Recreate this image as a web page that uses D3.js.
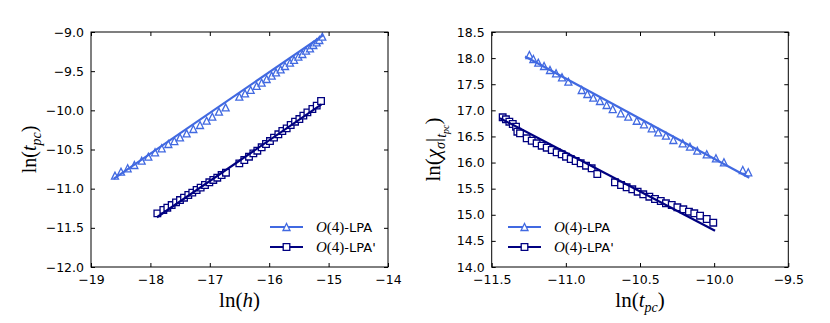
<!DOCTYPE html>
<html>
<head>
<meta charset="utf-8">
<script src="https://cdn.jsdelivr.net/npm/d3@7"></script>
<style>
    body { margin: 0; background: #fff; }
    .tick text { font-family: "DejaVu Sans", sans-serif; font-size: 12.5px; fill: #000; }
</style>
</head>
<body>
<div id="chart"></div>
<script>

// ---- left panel: ln(t_pc) vs ln(h) ----
let leftTriX = [-18.596, -18.495, -18.383, -18.270, -18.147, -18.035, -17.922, -17.810, -17.698, -17.597,
                -17.502, -17.390, -17.277, -17.165, -17.053, -16.958, -16.846, -16.733,
                -16.503, -16.407, -16.312, -16.211, -16.127, -16.043, -15.958, -15.885, -15.807, -15.734,
                -15.650, -15.582, -15.509, -15.442, -15.380, -15.313, -15.257, -15.201, -15.156, -15.106];
let leftTriY = [-10.834, -10.783, -10.740, -10.698, -10.643, -10.592, -10.536, -10.485, -10.430, -10.392,
                -10.345, -10.294, -10.238, -10.187, -10.132, -10.081, -10.017, -9.962,
                -9.826, -9.783, -9.740, -9.689, -9.647, -9.600, -9.557, -9.515, -9.477, -9.434,
                -9.392, -9.357, -9.315, -9.281, -9.238, -9.209, -9.166, -9.132, -9.102, -9.060];
let leftSqX = [-17.883, -17.782, -17.715, -17.642, -17.569, -17.502, -17.434, -17.362, -17.295, -17.222,
               -17.154, -17.081, -17.008, -16.941, -16.874, -16.801, -16.728,
               -16.503, -16.419, -16.340, -16.267, -16.200, -16.127, -16.054, -15.987, -15.919, -15.846,
               -15.779, -15.706, -15.638, -15.565, -15.492, -15.425, -15.357, -15.273, -15.200, -15.127];
let leftSqY = [-11.315, -11.272, -11.243, -11.209, -11.175, -11.145, -11.115, -11.081, -11.051, -11.017,
               -10.987, -10.953, -10.919, -10.889, -10.860, -10.826, -10.796,
               -10.677, -10.634, -10.592, -10.549, -10.515, -10.472, -10.430, -10.392, -10.349, -10.306,
               -10.264, -10.230, -10.187, -10.145, -10.111, -10.068, -10.026, -9.983, -9.940, -9.881];
// fitted straight lines (end points)
let leftTriFitX = [-18.62, -15.09];
let leftTriFitY = [-10.875, -9.04];
let leftSqFitX = [-17.89, -15.12];
let leftSqFitY = [-11.365, -9.925];

let leftXTicks = [-19, -18, -17, -16, -15, -14];
let leftYTicks = [-12.0, -11.5, -11.0, -10.5, -10.0, -9.5, -9.0];

// ---- right panel: ln(chi_sigma|t_pc) vs ln(t_pc) ----
let rightTriX = [-11.246, -11.219, -11.186, -11.147, -11.107, -11.066, -11.026, -10.983,
                 -10.893, -10.855, -10.815, -10.770, -10.725, -10.684, -10.630, -10.579, -10.522, -10.473,
                 -10.421, -10.377, -10.325, -10.275, -10.212, -10.163, -10.114, -10.050, -9.988, -9.934,
                 -9.807, -9.770];
let rightTriY = [18.060, 17.983, 17.912, 17.849, 17.772, 17.709, 17.633, 17.548,
                 17.389, 17.313, 17.242, 17.179, 17.102, 17.025, 16.943, 16.878, 16.801, 16.732,
                 16.656, 16.579, 16.514, 16.432, 16.369, 16.304, 16.227, 16.158, 16.081, 16.005,
                 15.857, 15.813];
let rightSqX = [-11.426, -11.404, -11.381, -11.358, -11.336, -11.327, -11.309, -11.264, -11.230, -11.197,
                -11.163, -11.129, -11.095, -11.062, -11.028, -10.999, -10.967, -10.934, -10.900, -10.864,
                -10.826, -10.788,
                -10.669, -10.628, -10.590, -10.552, -10.516, -10.478, -10.437, -10.399, -10.360, -10.325,
                -10.286, -10.248, -10.208, -10.170, -10.134, -10.095, -10.050, -10.006];
let rightSqY = [16.867, 16.828, 16.782, 16.738, 16.687, 16.591, 16.560, 16.464, 16.418, 16.369,
                16.323, 16.284, 16.240, 16.196, 16.158, 16.112, 16.068, 16.030, 15.986, 15.940,
                15.890, 15.781,
                15.622, 15.570, 15.526, 15.488, 15.442, 15.392, 15.346, 15.302, 15.264, 15.220,
                15.187, 15.143, 15.105, 15.059, 15.028, 14.982, 14.919, 14.848];
let rightTriFitX = [-11.275, -9.763];
let rightTriFitY = [18.03, 15.71];
let rightSqFitX = [-11.444, -9.994];
let rightSqFitY = [16.85, 14.695];

let rightXTicks = [-11.5, -11.0, -10.5, -10.0, -9.5];
let rightYTicks = [14.0, 14.5, 15.0, 15.5, 16.0, 16.5, 17.0, 17.5, 18.0, 18.5];

let legendNames = ["-LPA", "-LPA'"];
let colors = ["#4169e1", "#000080"];

const W = 830, H = 323;

let svg = d3.select("#chart")
    .append("svg")
    .attr("width", W)
    .attr("height", H)
    .style("font-family", "DejaVu Sans, sans-serif");

function zip(xs, ys) {
    return xs.map((x, i) => ({x: x, y: ys[i]}));
}

let triPath = "M0,-3.5 L-3.5,3.5 L3.5,3.5 Z";
let sqPath = "M-3.3,-3.3 L3.3,-3.3 L3.3,3.3 L-3.3,3.3 Z";

function fmt(d, dec) {
    return d3.format("." + dec + "f")(d).replace("-", "\u2212");
}

function drawPanel(p) {

    let x = d3.scaleLinear().domain(p.xDomain).range([p.left, p.right]);
    let y = d3.scaleLinear().domain(p.yDomain).range([p.bottom, p.top]);

    let g = svg.append("g");

    // axes with inward ticks on all four sides
    g.append("g")
        .attr("transform", "translate(0," + p.bottom + ")")
        .call(d3.axisBottom(x).tickValues(p.xTicks).tickSizeInner(-4).tickSizeOuter(0).tickPadding(8)
            .tickFormat(d => fmt(d, p.xDec)));
    g.append("g")
        .attr("transform", "translate(0," + p.top + ")")
        .call(d3.axisTop(x).tickValues(p.xTicks).tickSizeInner(-4).tickSizeOuter(0).tickFormat(""));
    g.append("g")
        .attr("transform", "translate(" + p.left + ",0)")
        .call(d3.axisLeft(y).tickValues(p.yTicks).tickSizeInner(-4).tickSizeOuter(0).tickPadding(7)
            .tickFormat(d => fmt(d, 1)));
    g.append("g")
        .attr("transform", "translate(" + p.right + ",0)")
        .call(d3.axisRight(y).tickValues(p.yTicks).tickSizeInner(-4).tickSizeOuter(0).tickFormat(""));

    g.selectAll(".domain").remove();
    g.selectAll(".tick line").attr("stroke", "#000").attr("stroke-width", 1);

    let line = d3.line().x(d => x(d.x)).y(d => y(d.y));

    p.series.forEach((s, k) => {
        g.append("g")
            .selectAll("path")
            .data(zip(s.xs, s.ys))
            .enter()
            .append("path")
            .attr("d", s.marker)
            .attr("transform", d => "translate(" + x(d.x) + "," + y(d.y) + ")")
            .attr("fill", "#fff")
            .attr("stroke", s.color)
            .attr("stroke-width", 1.3);
        g.append("path")
            .datum(zip(s.fitX, s.fitY))
            .attr("d", line)
            .attr("fill", "none")
            .attr("stroke", s.color)
            .attr("stroke-width", 2.2);
    });

    // frame
    g.append("rect")
        .attr("x", p.left).attr("y", p.top)
        .attr("width", p.right - p.left).attr("height", p.bottom - p.top)
        .attr("fill", "none").attr("stroke", "#000").attr("stroke-width", 1);

    // legend
    p.series.forEach((s, k) => {
        let ly = p.legY + k * 20;
        g.append("line")
            .attr("x1", p.legX).attr("x2", p.legX + 33)
            .attr("y1", ly).attr("y2", ly)
            .attr("stroke", s.color).attr("stroke-width", 2.2);
        g.append("path")
            .attr("d", s.marker)
            .attr("transform", "translate(" + (p.legX + 16.5) + "," + ly + ")")
            .attr("fill", "#fff").attr("stroke", s.color).attr("stroke-width", 1.3);
        let t = g.append("text")
            .attr("x", p.legX + 46).attr("y", ly + 5)
            .attr("font-size", 13);
        t.append("tspan").attr("font-family", "Liberation Serif, serif").attr("font-style", "italic")
            .attr("font-size", 15).text("O");
        t.append("tspan").attr("font-family", "Liberation Serif, serif").attr("font-size", 15).text("(4)");
        t.append("tspan").attr("font-family", "DejaVu Sans, sans-serif").text(legendNames[k]);
    });

    // x label
    let xl = g.append("text")
        .attr("x", (p.left + p.right) / 2).attr("y", 307)
        .attr("text-anchor", "middle")
        .attr("font-family", "Liberation Serif, serif")
        .attr("font-size", 21);
    p.xLabel(xl);

    let yl = g.append("text")
        .attr("transform", "translate(" + p.yLabelX + "," + ((p.top + p.bottom) / 2) + ") rotate(-90)")
        .attr("text-anchor", "middle")
        .attr("font-family", "Liberation Serif, serif")
        .attr("font-size", p.yLabelSize);
    p.yLabel(yl);
}

function tpc(t) {
    t.append("tspan").attr("font-style", "italic").text("t");
    t.append("tspan").attr("font-style", "italic").attr("font-size", 14).attr("dy", 5).text("pc");
    t.append("tspan").attr("dy", -5).text(")");
}

drawPanel({
    left: 91, right: 388, top: 32, bottom: 267,
    xDomain: [-19, -14], yDomain: [-12, -9],
    xTicks: leftXTicks, yTicks: leftYTicks, xDec: 0,
    legX: 270, legY: 227, yLabelX: 36, yLabelSize: 20,
    series: [
        {xs: leftTriX, ys: leftTriY, fitX: leftTriFitX, fitY: leftTriFitY, color: colors[0], marker: triPath},
        {xs: leftSqX, ys: leftSqY, fitX: leftSqFitX, fitY: leftSqFitY, color: colors[1], marker: sqPath}
    ],
    xLabel: t => {
        t.append("tspan").text("ln(");
        t.append("tspan").attr("font-style", "italic").text("h");
        t.append("tspan").text(")");
    },
    yLabel: t => {
        t.append("tspan").text("ln(");
        tpc(t);
    }
});

drawPanel({
    left: 491.7, right: 788.3, top: 32, bottom: 267,
    xDomain: [-11.5, -9.5], yDomain: [14, 18.5],
    xTicks: rightXTicks, yTicks: rightYTicks, xDec: 1,
    legX: 508, legY: 227, yLabelX: 440, yLabelSize: 21,
    series: [
        {xs: rightTriX, ys: rightTriY, fitX: rightTriFitX, fitY: rightTriFitY, color: colors[0], marker: triPath},
        {xs: rightSqX, ys: rightSqY, fitX: rightSqFitX, fitY: rightSqFitY, color: colors[1], marker: sqPath}
    ],
    xLabel: t => {
        t.append("tspan").text("ln(");
        tpc(t);
    },
    yLabel: t => {
        t.append("tspan").text("ln(");
        t.append("tspan").attr("font-style", "italic").text("\u03c7");
        t.append("tspan").attr("font-style", "italic").attr("font-size", 14).attr("dy", 5).text("\u03c3");
        t.append("tspan").attr("dy", -5).text("|");
        t.append("tspan").attr("font-style", "italic").attr("font-size", 14).attr("dy", 6).text("t");
        t.append("tspan").attr("font-style", "italic").attr("font-size", 10).attr("dy", 3).text("pc");
        t.append("tspan").attr("dy", -9).text(")");
    }
});

</script>
</body>
</html>
